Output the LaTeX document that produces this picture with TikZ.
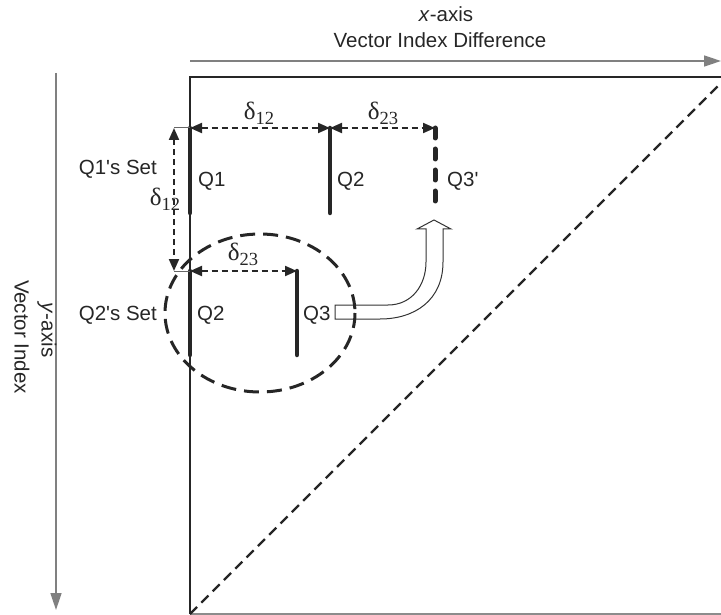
\documentclass[tikz,border=0pt]{standalone}
\usepackage{fontspec}
\setmainfont{Liberation Sans}
\newfontfamily\tms{Liberation Serif}
\usetikzlibrary{arrows.meta}
\newcommand\dlt[1]{δ\raisebox{-5pt}{\fontsize{18.5}{20}\selectfont #1}}
\begin{document}
\begin{tikzpicture}[x=1pt,y=-1pt,
 lbl/.style={font=\fontsize{20.5}{24}\selectfont, text=black!85, inner sep=0pt},
 dl/.style={font=\tms\fontsize{25}{27}\selectfont, text=black!85, inner sep=0pt},
 bar/.style={line width=4.5pt, line cap=round, draw=black!85},
 dbar/.style={line width=5pt, draw=black!85, dash pattern=on 10pt off 11pt, line cap=round},
 darr/.style={line width=2pt, dash pattern=on 6pt off 4pt, draw=black!85, {Triangle[length=12pt,width=10pt]}-{Triangle[length=12pt,width=10pt]}},
 axis/.style={line width=1.6pt, draw=black!50, -{Triangle[length=17pt,width=11pt]}},
 frame/.style={line width=1.6pt, draw=black!85},
 thin/.style={line width=1pt, draw=black!60},
]
\useasboundingbox (0,0) rectangle (721,615);
% coordinates
\coordinate (xa0) at (190,61);
\coordinate (xa1) at (721,61);
\coordinate (ya0) at (56,73);
\coordinate (ya1) at (56,610);
\coordinate (o)   at (190,614);
\coordinate (tl)  at (190,77);
\coordinate (tr)  at (721,77);
\coordinate (br)  at (721,614);
\coordinate (dg)  at (721,83);
\coordinate (q1t) at (190,128);
\coordinate (q1b) at (190,213);
\coordinate (q2t) at (330,128);
\coordinate (q2b) at (330,213);
\coordinate (q3t) at (435,128);
\coordinate (q3b) at (435,207);
\coordinate (p2t) at (190,271);
\coordinate (p2b) at (190,355);
\coordinate (p3t) at (297,271);
\coordinate (p3b) at (297,355);
\coordinate (vt)  at (174,128);
\coordinate (vb)  at (174,271);

% axes
\draw[axis] (xa0) -- (xa1);
\draw[axis] (ya0) -- (ya1);
\node[lbl, anchor=base] (xl1) at (446,22) {\textit{x}-axis};
\node[lbl, anchor=base] (xl2) at (440,48) {Vector Index Difference};
\node[lbl, rotate=-90] (yl1) at (47,330) {\textit{y}-axis};
\node[lbl, rotate=-90] (yl2) at (22,337) {Vector Index};

% frame
\draw[frame] (o) -- (tl) -- (tr);
\draw[line width=1.4pt, draw=black!45] (o) -- (br);
\draw[line width=2.2pt, draw=black!85, dash pattern=on 10pt off 6pt] (o) -- (dg);

% bars
\draw[bar] (q1t) -- (q1b);
\draw[bar] (q2t) -- (q2b);
\draw[dbar] (q3t) -- (q3b);
\draw[bar] (p2t) -- (p2b);
\draw[bar] (p3t) -- (p3b);

% delta arrows
\draw[darr] (q1t) -- (q2t);
\draw[darr] (q2t) -- (q3t);
\draw[darr] (p2t) -- (p3t);
\draw[darr] (vt) -- (vb);
\draw[thin] (vt) -- (q1t);
\draw[thin] (vb) -- (p2t);

\node[dl] (d12a) at (259,113) {\dlt{12}};
\node[dl] (d23a) at (383,113) {\dlt{23}};
\node[dl] (d12b) at (165,199) {\dlt{12}};
\node[dl] (d23b) at (243,254) {\dlt{23}};

% labels
\node[lbl, anchor=base west] (lq1) at (198,187) {Q1};
\node[lbl, anchor=base west] (lq2) at (337,187) {Q2};
\node[lbl, anchor=base west] (lq3) at (447,187) {Q3\textquotesingle};
\node[lbl, anchor=base east] (s1) at (157,175) {Q1\textquotesingle s Set};
\node[lbl, anchor=base east] (s2) at (157,320) {Q2\textquotesingle s Set};
\node[lbl, anchor=base west] (lp2) at (197,320) {Q2};
\node[lbl, anchor=base west] (lp3) at (303,320) {Q3};

% hollow bent arrow
\draw[line width=1pt, draw=black!80, fill=white]
  (335,305) -- (388,305) .. controls (412,305) and (426,285) .. (426,262)
  -- (426,229) -- (417,229) -- (434,220) -- (451,229) -- (443,229)
  -- (443,262) .. controls (443,300) and (415,319) .. (380,319)
  -- (335,319) -- cycle;

% dashed ellipse
\draw[line width=3pt, draw=black!85, dash pattern=on 15pt off 8pt] (260,313) ellipse [x radius=95, y radius=79];
\end{tikzpicture}
\end{document}
